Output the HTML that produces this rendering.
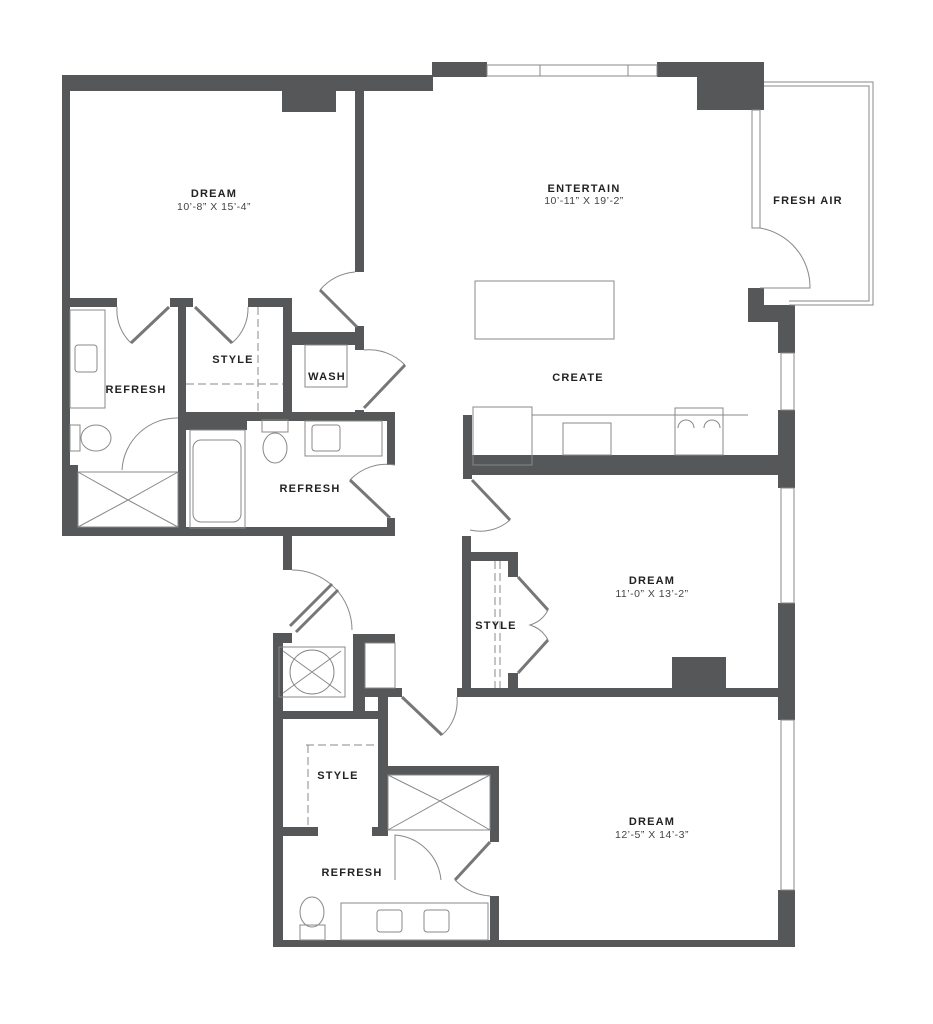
<!DOCTYPE html>
<html><head><meta charset="utf-8"><style>
html,body{margin:0;padding:0;background:#fff;}
svg{display:block}
text{font-family:"Liberation Sans",sans-serif;fill:#222;text-anchor:middle}
.b{font-weight:bold;font-size:11px;letter-spacing:1.2px}
.d{font-size:10.5px;letter-spacing:0.5px;fill:#444}
</style></head><body>
<svg width="933" height="1024" viewBox="0 0 933 1024" xmlns="http://www.w3.org/2000/svg">
<g fill="#555759">
<rect x="62" y="75" width="371" height="16"/>
<rect x="420" y="75" width="13" height="15"/>
<rect x="432" y="62" width="55" height="15"/>
<rect x="657" y="62" width="107" height="15"/>
<rect x="697" y="62" width="67" height="48"/>
<rect x="62" y="75" width="8" height="460"/>
<rect x="62" y="465" width="16" height="70"/>
<rect x="62" y="527" width="333" height="9"/>
<rect x="282" y="91" width="54" height="21"/>
<rect x="355" y="91" width="9" height="181"/>
<rect x="355" y="326" width="9" height="24"/>
<rect x="62" y="298" width="55" height="9"/>
<rect x="170" y="298" width="23" height="9"/>
<rect x="248" y="298" width="44" height="9"/>
<rect x="178" y="298" width="8" height="230"/>
<rect x="283" y="298" width="9" height="114"/>
<rect x="292" y="332" width="72" height="13"/>
<rect x="355" y="410" width="9" height="10"/>
<rect x="178" y="412" width="217" height="9"/>
<rect x="178" y="412" width="69" height="18"/>
<rect x="387" y="412" width="8" height="53"/>
<rect x="387" y="518" width="8" height="18"/>
<rect x="463" y="415" width="9" height="64"/>
<rect x="463" y="455" width="315" height="20"/>
<rect x="748" y="288" width="16" height="34"/>
<rect x="748" y="305" width="47" height="17"/>
<rect x="778" y="305" width="17" height="48"/>
<rect x="778" y="410" width="17" height="78"/>
<rect x="778" y="603" width="17" height="117"/>
<rect x="778" y="890" width="17" height="57"/>
<rect x="283" y="535" width="9" height="35"/>
<rect x="273" y="633" width="10" height="314"/>
<rect x="273" y="633" width="19" height="10"/>
<rect x="353" y="634" width="42" height="9"/>
<rect x="353" y="634" width="12" height="84"/>
<rect x="353" y="688" width="49" height="9"/>
<rect x="378" y="688" width="10" height="147"/>
<rect x="283" y="711" width="95" height="8"/>
<rect x="273" y="827" width="45" height="9"/>
<rect x="372" y="827" width="16" height="9"/>
<rect x="387" y="766" width="112" height="9"/>
<rect x="490" y="766" width="9" height="76"/>
<rect x="490" y="896" width="9" height="51"/>
<rect x="273" y="940" width="522" height="7"/>
<rect x="462" y="536" width="9" height="161"/>
<rect x="471" y="552" width="47" height="9"/>
<rect x="508" y="552" width="10" height="25"/>
<rect x="508" y="673" width="10" height="20"/>
<rect x="457" y="688" width="321" height="9"/>
<rect x="672" y="657" width="54" height="31"/>
</g>
<g fill="none" stroke="#888" stroke-width="1">
<rect x="487" y="65" width="170" height="11"/>
<line x1="540" y1="65" x2="540" y2="76"/><line x1="628" y1="65" x2="628" y2="76"/>
<rect x="752" y="110" width="8" height="118"/>
<rect x="781" y="353" width="13" height="57"/>
<rect x="781" y="488" width="13" height="115"/>
<rect x="781" y="720" width="13" height="170"/>
<polyline points="764,82 873,82 873,305 789,305"/>
<polyline points="764,86 869,86 869,301 789,301"/>
<path d="M760,228 A60,60 0 0 1 810,288 L760,288"/>
<rect x="475" y="281" width="139" height="58"/>
<rect x="473" y="407" width="59" height="58"/>
<line x1="532" y1="415" x2="748" y2="415"/>
<rect x="563" y="423" width="48" height="32"/>
<rect x="675" y="408" width="48" height="47"/>
<path d="M678,428 a8,8 0 0 1 16,0 M704,428 a8,8 0 0 1 16,0"/>
<path d="M355,272 A50,50 0 0 0 320,290"/><line x1="320" y1="290" x2="357" y2="327" stroke-width="3" stroke="#777"/>
<path d="M364,350 A50,50 0 0 1 405,365"/><line x1="405" y1="365" x2="364" y2="408" stroke-width="3" stroke="#777"/>
<path d="M117,307 A45,45 0 0 0 131,343"/><line x1="131" y1="343" x2="169" y2="307" stroke-width="3" stroke="#777"/>
<path d="M248,307 A45,45 0 0 1 232,343"/><line x1="232" y1="343" x2="195" y2="307" stroke-width="3" stroke="#777"/>
<path d="M395,465 A50,50 0 0 0 350,480"/><line x1="350" y1="480" x2="390" y2="518" stroke-width="3" stroke="#777"/>
<path d="M470,530 A45,45 0 0 0 510,520"/><line x1="510" y1="520" x2="472" y2="480" stroke-width="3" stroke="#777"/>
<path d="M292,570 A60,60 0 0 1 352,630"/><line x1="290" y1="626" x2="332" y2="584" stroke-width="3" stroke="#777"/><line x1="296" y1="632" x2="338" y2="590" stroke-width="3" stroke="#777"/>
<path d="M442,735 A45,45 0 0 0 457,697"/><line x1="402" y1="697" x2="442" y2="735" stroke-width="3" stroke="#777"/>
<line x1="518" y1="577" x2="548" y2="610" stroke-width="3" stroke="#777"/><line x1="518" y1="673" x2="548" y2="640" stroke-width="3" stroke="#777"/>
<path d="M548,610 A30,30 0 0 1 530,625 A30,30 0 0 1 548,640"/>
<line x1="455" y1="880" x2="490" y2="842" stroke-width="3" stroke="#777"/><path d="M455,880 A55,55 0 0 0 490,896"/>
<path d="M122,470 A55,55 0 0 1 178,418"/>
<path d="M395,880 L395,835 A50,50 0 0 1 441,880"/>
<rect x="70" y="310" width="35" height="98"/><rect x="75" y="345" width="22" height="27" rx="3"/>
<ellipse cx="96" cy="438" rx="15" ry="13"/><rect x="70" y="425" width="10" height="26"/>
<rect x="78" y="472" width="100" height="55"/><path d="M78,472 L128,500 L178,472 M78,527 L128,500 L178,527"/>
<rect x="190" y="430" width="55" height="98"/><rect x="193" y="440" width="48" height="82" rx="8"/>
<rect x="262" y="420" width="26" height="12"/><ellipse cx="275" cy="448" rx="12" ry="15"/>
<rect x="305" y="421" width="77" height="35"/><rect x="312" y="425" width="28" height="26" rx="3"/>
<rect x="305" y="345" width="42" height="42"/>
<rect x="279" y="647" width="66" height="50"/><circle cx="312" cy="672" r="22"/><path d="M283,651 L341,693 M341,651 L283,693"/>
<rect x="365" y="643" width="30" height="45"/>
<line x1="306" y1="745" x2="378" y2="745" stroke-dasharray="8,4"/><line x1="308" y1="745" x2="308" y2="827" stroke-dasharray="8,4"/>
<line x1="495" y1="561" x2="495" y2="688" stroke-dasharray="8,4"/><line x1="500" y1="561" x2="500" y2="688" stroke-dasharray="8,4"/>
<line x1="186" y1="384" x2="283" y2="384" stroke-dasharray="8,4"/><line x1="258" y1="307" x2="258" y2="412" stroke-dasharray="8,4"/>
<rect x="388" y="775" width="102" height="55"/><path d="M388,775 L440,801 L490,775 M388,830 L440,801 L490,830"/>
<rect x="341" y="903" width="147" height="37"/><rect x="377" y="910" width="25" height="22" rx="3"/><rect x="424" y="910" width="25" height="22" rx="3"/>
<ellipse cx="312" cy="912" rx="12" ry="15"/><rect x="300" y="925" width="25" height="15"/>
</g>
<text class="b" x="214" y="197">DREAM</text><text class="d" x="214" y="210">10’-8” X 15’-4”</text>
<text class="b" x="584" y="192">ENTERTAIN</text><text class="d" x="584" y="204">10’-11” X 19’-2”</text>
<text class="b" x="808" y="204">FRESH AIR</text>
<text class="b" x="578" y="381">CREATE</text>
<text class="b" x="233" y="363">STYLE</text>
<text class="b" x="327" y="380">WASH</text>
<text class="b" x="136" y="393">REFRESH</text>
<text class="b" x="310" y="492">REFRESH</text>
<text class="b" x="652" y="584">DREAM</text><text class="d" x="652" y="597">11’-0” X 13’-2”</text>
<text class="b" x="496" y="629">STYLE</text>
<text class="b" x="338" y="779">STYLE</text>
<text class="b" x="652" y="825">DREAM</text><text class="d" x="652" y="838">12’-5” X 14’-3”</text>
<text class="b" x="352" y="876">REFRESH</text>
</svg>
</body></html>
